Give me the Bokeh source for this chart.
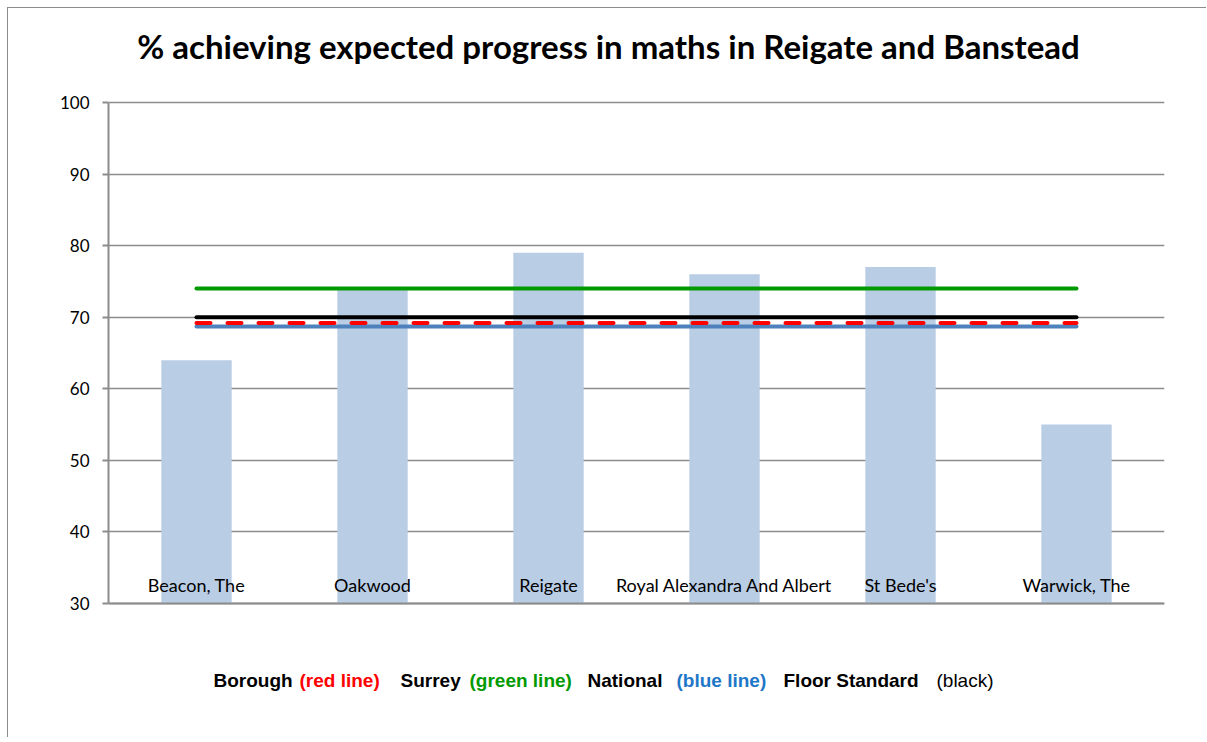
from bokeh.plotting import figure
from bokeh.models import Label, FactorRange, Range1d, FixedTicker, Span
from bokeh.core.properties import value
from bokeh.embed import file_html
from bokeh.resources import INLINE

# ---- data ----
schools = ["Beacon, The", "Oakwood", "Reigate", "Royal Alexandra And Albert", "St Bede's", "Warwick, The"]
pct_expected = [64, 74, 79, 76, 77, 55]
borough = 69.2
surrey = 74
national = 68.7
floor_standard = 70
y_ticks = [30, 40, 50, 60, 70, 80, 90, 100]
title_text = "% achieving expected progress in maths in Reigate and Banstead"
legend_texts = ["Borough", "(red line)", "Surrey", "(green line)", "National", "(blue line)", "Floor Standard", "(black)"]

# ---- styles / layout ----
legend_colors = ["black", "#FF0000", "black", "#009A00", "black", "#1F77C8", "black", "black"]
legend_styles = ["bold"] * 7 + ["normal"]
legend_x = [105, 191, 292, 361, 479, 568, 675, 828]  # screen px from frame left

W, H = 1199, 730
ORIGIN = 8                 # page px of canvas top-left
PPU = 501 / 70             # px per percentage point
ymax = 100 + (102 - ORIGIN) / PPU
ymin = ymax - H / PPU

p = figure(
    x_range=FactorRange(*schools), y_range=Range1d(ymin, ymax),
    width=W, height=H, output_backend="svg", toolbar_location=None,
    x_axis_location=None,
    min_border_left=100, min_border_right=W - 100 - 1056, min_border_top=0, min_border_bottom=0,
)
p.styles = {"margin-left": "7px", "margin-top": "7px",
            "border-left": "1px solid #8c8c8c", "border-top": "1px solid #8c8c8c"}
p.outline_line_color = None
p.background_fill_color = "white"
p.border_fill_color = "white"

# bars
p.vbar(x=schools, top=pct_expected, bottom=30, width=0.4, fill_color="#B9CDE5", line_color=None)

# axis line at 30
p.add_layout(Span(location=30, dimension="width", line_color="#8c8c8c", line_width=2))

# reference lines (span from first to last school)
ends = [schools[0], schools[-1]]
p.line(x=ends, y=[surrey, surrey], line_color="#009A00", line_width=4, line_cap="round")
p.line(x=ends, y=[floor_standard, floor_standard], line_color="black", line_width=4, line_cap="round")
p.line(x=ends, y=[national, national], line_color="#4F81BD", line_width=4, line_cap="round")
p.line(x=ends, y=[borough, borough], line_color="#FF0000", line_width=4, line_dash="14 17",
       line_cap="round")

# category labels inside plot
p.text(x=schools, y=[32.65] * len(schools), text=schools, text_font=value("Lato"),
       text_font_size="18px", text_align="center", text_baseline="middle", text_color="black")

# y axis
p.yaxis.bounds = (30, 100)
p.yaxis.ticker = FixedTicker(ticks=y_ticks)
p.yaxis.major_label_text_font = "Lato"
p.yaxis.major_label_text_font_size = "17px"
p.yaxis.major_label_text_color = "black"
p.yaxis.major_label_standoff = 13
p.yaxis.axis_line_color = "#8c8c8c"
p.yaxis.axis_line_width = 2
p.yaxis.major_tick_line_color = "#8c8c8c"
p.yaxis.major_tick_line_width = 2
p.yaxis.major_tick_in = 0
p.yaxis.major_tick_out = 6
p.yaxis.minor_tick_line_color = None
p.xgrid.grid_line_color = None
p.ygrid.bounds = (30, 100)
p.ygrid.grid_line_color = "#8c8c8c"
p.ygrid.grid_line_width = 1.5

# title (screen units relative to frame bottom-left)
p.add_layout(Label(x=500, y=ORIGIN + H - 45, x_units="screen", y_units="screen", text=title_text,
                   text_font="Lato", text_font_style="bold", text_font_size="33px",
                   text_align="center", text_baseline="middle", text_color="black"))

# legend text
for t, c, s, lx in zip(legend_texts, legend_colors, legend_styles, legend_x):
    p.add_layout(Label(x=lx, y=ORIGIN + H - 680, x_units="screen", y_units="screen", text=t,
                       text_font="Liberation Sans", text_font_style=s, text_font_size="19px",
                       text_align="left", text_baseline="middle", text_color=c))

open("out.html", "w").write(file_html(p, INLINE))
